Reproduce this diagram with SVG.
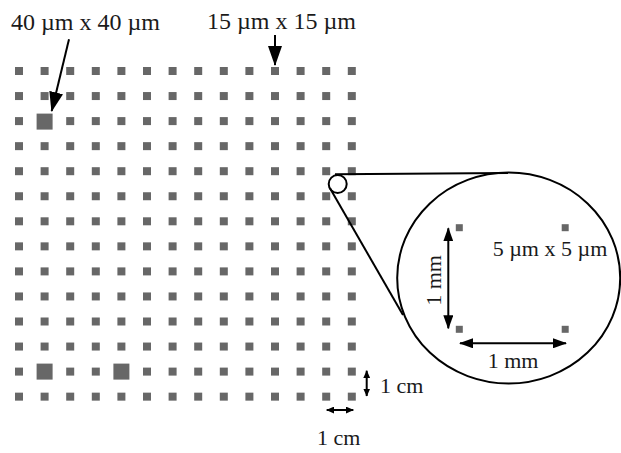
<svg xmlns="http://www.w3.org/2000/svg" xmlns:xlink="http://www.w3.org/1999/xlink" width="621" height="453" viewBox="0 0 621 453">
<style>
.sq{fill:#676767}
.t{font-family:"Liberation Serif","Times New Roman",serif;font-size:22px;fill:#1a1a1a}
.tb{font-size:24px}
.ln{stroke:#000;stroke-width:2;fill:none}
</style>
<defs>
<rect id="sq" class="sq" width="8" height="8"/>
<rect id="big" class="sq" width="16" height="16"/>
<marker id="ahL" markerUnits="userSpaceOnUse" markerWidth="20" markerHeight="14" refX="19" refY="7" orient="auto"><path d="M0,0 L20,7 L0,14 Z" fill="#000"/></marker>
<marker id="ahM" markerUnits="userSpaceOnUse" markerWidth="14" markerHeight="10" refX="13" refY="5" orient="auto-start-reverse"><path d="M0,0 L14,5 L0,10 Z" fill="#000"/></marker>
<marker id="ahS" markerUnits="userSpaceOnUse" markerWidth="8" markerHeight="7" refX="7.5" refY="3.5" orient="auto-start-reverse"><path d="M0,0 L8,3.5 L0,7 Z" fill="#000"/></marker>
<g id="row">
<use xlink:href="#sq" x="15"/><use xlink:href="#sq" x="40.6"/><use xlink:href="#sq" x="66.2"/><use xlink:href="#sq" x="91.8"/><use xlink:href="#sq" x="117.4"/><use xlink:href="#sq" x="143"/><use xlink:href="#sq" x="168.6"/><use xlink:href="#sq" x="194.2"/><use xlink:href="#sq" x="219.8"/><use xlink:href="#sq" x="245.4"/><use xlink:href="#sq" x="271"/><use xlink:href="#sq" x="296.6"/><use xlink:href="#sq" x="322.2"/><use xlink:href="#sq" x="347.8"/>
</g>
</defs>
<rect width="621" height="453" fill="#fff"/>
<g id="grid">
<use xlink:href="#row" y="67"/><use xlink:href="#row" y="92.05"/><use xlink:href="#row" y="117.1"/><use xlink:href="#row" y="142.15"/><use xlink:href="#row" y="167.2"/><use xlink:href="#row" y="192.25"/><use xlink:href="#row" y="217.3"/><use xlink:href="#row" y="242.35"/><use xlink:href="#row" y="267.4"/><use xlink:href="#row" y="292.45"/><use xlink:href="#row" y="317.5"/><use xlink:href="#row" y="342.55"/><use xlink:href="#row" y="367.6"/><use xlink:href="#row" y="392.65"/>
<use xlink:href="#big" x="36.6" y="113.6"/>
<use xlink:href="#big" x="36.6" y="363.6"/>
<use xlink:href="#big" x="113.4" y="363.6"/>
</g>
<g id="magnifier">
<circle class="ln" cx="337.7" cy="184" r="9"/>
<ellipse class="ln" cx="508.7" cy="278" rx="111.5" ry="105.5"/>
<path class="ln" d="M335,174.3 L508,173" stroke-width="1.7"/>
<path class="ln" d="M330,188.3 L403,315"/>
</g>
<g id="inset">
<rect class="sq" x="455.8" y="224.2" width="7" height="7"/>
<rect class="sq" x="561.7" y="224.2" width="7" height="7"/>
<rect class="sq" x="455.8" y="325.8" width="7" height="7"/>
<rect class="sq" x="561.7" y="325.8" width="7" height="7"/>
</g>
<g id="connectors">
<line class="ln" x1="69" y1="39.3" x2="51.7" y2="111" marker-end="url(#ahL)"/>
<line class="ln" x1="275" y1="35" x2="275" y2="65" marker-end="url(#ahL)"/>
<line class="ln" x1="448.3" y1="228.3" x2="448.3" y2="328.3" marker-start="url(#ahM)" marker-end="url(#ahM)"/>
<line class="ln" x1="460" y1="343.3" x2="566" y2="343.3" marker-start="url(#ahM)" marker-end="url(#ahM)"/>
<line class="ln" x1="366.7" y1="370.7" x2="366.7" y2="396" marker-start="url(#ahS)" marker-end="url(#ahS)"/>
<line class="ln" x1="326.7" y1="410" x2="353.3" y2="410" marker-start="url(#ahS)" marker-end="url(#ahS)"/>
</g>
<g id="labels">
<text class="t tb" x="11" y="30">40 µm x 40 µm</text>
<text class="t tb" x="207" y="29">15 µm x 15 µm</text>
<text class="t" x="492.7" y="256">5 µm x 5 µm</text>
<text class="t" text-anchor="middle" transform="translate(440.7,280.5) rotate(-90)">1 mm</text>
<text class="t" x="513" y="368" text-anchor="middle">1 mm</text>
<text class="t" x="380" y="393">1 cm</text>
<text class="t" x="317" y="445">1 cm</text>
</g>
</svg>
